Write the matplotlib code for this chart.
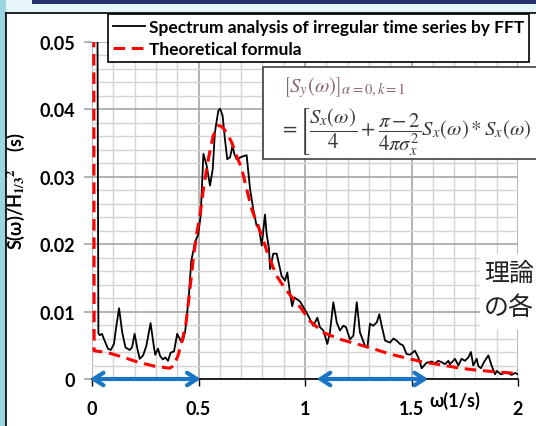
import numpy as np
import matplotlib
matplotlib.use('Agg')
import matplotlib.pyplot as plt
from matplotlib.patches import Rectangle
from matplotlib.lines import Line2D

# Data
omega_fft = [0.025, 0.030, 0.036, 0.047, 0.055, 0.075, 0.088, 0.103, 0.115, 0.127,
             0.142, 0.157, 0.177, 0.188, 0.200, 0.213, 0.224, 0.240, 0.255, 0.275,
             0.290, 0.297, 0.310, 0.320, 0.333, 0.344, 0.357, 0.369, 0.385, 0.400,
             0.416, 0.427, 0.437, 0.444, 0.455, 0.466, 0.484, 0.499, 0.510, 0.523,
             0.538, 0.554, 0.567, 0.577, 0.593, 0.601, 0.613, 0.624, 0.635, 0.648,
             0.660, 0.668, 0.679, 0.698, 0.714, 0.726, 0.742, 0.757, 0.773, 0.781,
             0.797, 0.812, 0.820, 0.831, 0.836, 0.851, 0.867, 0.890, 0.906, 0.917,
             0.930, 0.940, 0.950, 0.977, 1.008, 1.039, 1.058, 1.070, 1.086, 1.105,
             1.117, 1.133, 1.149, 1.164, 1.180, 1.192, 1.211, 1.227, 1.243, 1.258,
             1.282, 1.293, 1.305, 1.320, 1.337, 1.349, 1.360, 1.376, 1.399, 1.415,
             1.430, 1.446, 1.460, 1.477, 1.493, 1.516, 1.532, 1.548, 1.570, 1.595,
             1.610, 1.626, 1.641, 1.657, 1.673, 1.680, 1.696, 1.704, 1.720, 1.735,
             1.751, 1.767, 1.779, 1.790, 1.806, 1.814, 1.826, 1.840, 1.861, 1.876,
             1.892, 1.900, 1.920, 1.947, 1.970, 1.986, 2.000]
s_fft = [0.0600, 0.0068, 0.0065, 0.0067, 0.0060, 0.0045, 0.0043, 0.0052, 0.0080, 0.0105,
         0.0069, 0.0047, 0.0043, 0.0047, 0.0067, 0.0045, 0.0030, 0.0035, 0.0049, 0.0083,
         0.0049, 0.0036, 0.0045, 0.0034, 0.0029, 0.0032, 0.0027, 0.0039, 0.0041, 0.0067,
         0.0057, 0.0057, 0.0070, 0.0089, 0.0125, 0.0175, 0.0203, 0.0215, 0.0242, 0.0334,
         0.0317, 0.0287, 0.0312, 0.0366, 0.0398, 0.0401, 0.0391, 0.0356, 0.0326, 0.0329,
         0.0346, 0.0334, 0.0326, 0.0329, 0.0331, 0.0332, 0.0282, 0.0252, 0.0227, 0.0229,
         0.0198, 0.0244, 0.0215, 0.0193, 0.0163, 0.0186, 0.0186, 0.0153, 0.0146, 0.0158,
         0.0126, 0.0108, 0.0121, 0.0115, 0.0098, 0.0079, 0.0091, 0.0077, 0.0072, 0.0052,
         0.0069, 0.0114, 0.0084, 0.0072, 0.0079, 0.0077, 0.0059, 0.0064, 0.0114, 0.0069,
         0.0049, 0.0047, 0.0082, 0.0079, 0.0084, 0.0096, 0.0079, 0.0057, 0.0054, 0.0060,
         0.0057, 0.0052, 0.0050, 0.0037, 0.0036, 0.0042, 0.0032, 0.0016, 0.0024, 0.0026,
         0.0023, 0.0027, 0.0025, 0.0022, 0.0027, 0.0022, 0.0027, 0.0030, 0.0020, 0.0030,
         0.0027, 0.0032, 0.0040, 0.0020, 0.0030, 0.0019, 0.0016, 0.0025, 0.0035, 0.0020,
         0.0007, 0.0012, 0.0007, 0.0010, 0.0006, 0.0009, 0.0007]

omega_theory = [0.008, 0.010, 0.075, 0.150, 0.216, 0.294, 0.365, 0.385, 0.404, 0.423,
                0.440, 0.455, 0.476, 0.491, 0.507, 0.523, 0.546, 0.569, 0.593, 0.608,
                0.632, 0.656, 0.679, 0.703, 0.726, 0.750, 0.773, 0.797, 0.828, 0.867,
                0.906, 0.945, 0.984, 1.023, 1.086, 1.164, 1.243, 1.320, 1.399, 1.477,
                1.555, 1.640, 1.728, 1.810, 1.884, 2.000]
s_theory = [0.0600, 0.0042, 0.0039, 0.0032, 0.0025, 0.0019, 0.0016, 0.0020, 0.0035, 0.0057,
            0.0080, 0.0120, 0.0180, 0.0215, 0.0242, 0.0282, 0.0326, 0.0361, 0.0376, 0.0375,
            0.0366, 0.0351, 0.0331, 0.0312, 0.0282, 0.0252, 0.0232, 0.0213, 0.0183, 0.0153,
            0.0134, 0.0119, 0.0104, 0.0086, 0.0069, 0.0059, 0.0052, 0.0045, 0.0037, 0.0031,
            0.0025, 0.0021, 0.0016, 0.0013, 0.0011, 0.0008]

# blue range arrows along the omega axis
arrow_ranges = [(-0.01, 0.51), (1.055, 1.578)]

label_fft = 'Spectrum analysis of irregular time series by FFT'
label_theory = 'Theoretical formula'

plt.rcParams['font.family'] = ['Lato', 'Noto Sans CJK JP', 'DejaVu Sans']
plt.rcParams['mathtext.fontset'] = 'stix'

W, H = 536, 427
fig = plt.figure(figsize=(W / 100, H / 100), dpi=100)

def fx(p):
    return p / W

def fy(p):
    return 1 - p / H

# slide background bits
fig.patches.append(Rectangle((0, 0), 1, 1, transform=fig.transFigure,
                             facecolor='white', edgecolor='none', zorder=-10))
fig.patches.append(Rectangle((0, 0), fx(6), 1, transform=fig.transFigure,
                             facecolor='#9ad6e2', edgecolor='none', zorder=-9))
fig.patches.append(Rectangle((fx(6), fy(14)), 1, fy(0) - fy(14), transform=fig.transFigure,
                             facecolor='#e6f5f8', edgecolor='none', zorder=-9))
fig.patches.append(Rectangle((fx(32), fy(5)), 1, fy(0) - fy(5), transform=fig.transFigure,
                             facecolor='#26306e', edgecolor='none', zorder=-8))
fig.lines.append(Line2D([fx(6), fx(6)], [0, fy(14)], transform=fig.transFigure,
                        color='black', lw=1.2))
fig.lines.append(Line2D([fx(6), 1], [fy(14), fy(14)], transform=fig.transFigure,
                        color='black', lw=1.2))

ax = fig.add_axes([fx(92), 1 - 380 / H, 426 / W, 337 / H])
ax.set_facecolor('none')

ax.plot(omega_fft, s_fft, color='black', lw=1.3, label=label_fft, zorder=3)
ax.plot(omega_theory, s_theory, color='red', lw=2.2, ls=(0, (3.8, 2.2)),
        label=label_theory, zorder=4)

ax.set_xlim(0, 2)
ax.set_ylim(0, 0.05)
ax.set_xticks([0, 0.5, 1, 1.5, 2])
ax.set_xticks(np.arange(0, 2.01, 0.1), minor=True)
ax.set_yticks([0, 0.01, 0.02, 0.03, 0.04, 0.05])
ax.set_yticks(np.arange(0, 0.0501, 0.002), minor=True)
ax.set_xticklabels(['0', '0.5', '1', '1.5', '2'])
ax.set_yticklabels(['0', '0.01', '0.02', '0.03', '0.04', '0.05'])
ax.grid(which='minor', color='#d4d4d4', lw=1.0)
ax.grid(which='major', color='#a6a6a6', lw=1.2)
ax.set_axisbelow(True)
for side in ['top', 'right', 'left']:
    ax.spines[side].set_visible(False)
ax.spines['bottom'].set_color('black')
ax.spines['bottom'].set_linewidth(1.2)
ax.tick_params(axis='y', which='major', length=6, color='#a6a6a6', width=1.2,
               labelsize=13, pad=6)
ax.tick_params(axis='x', which='major', length=5, color='black', width=1,
               labelsize=13, pad=10)
ax.tick_params(which='minor', length=0)
for lab in ax.get_xticklabels() + ax.get_yticklabels():
    lab.set_fontweight('bold')

ax.set_ylabel(r'S(ω)/H$_{\mathbf{1/3}}$$^{\mathbf{2}}$    (s)', fontsize=13,
              fontweight='bold')
ax.yaxis.set_label_coords((fx(27) - fx(92)) / (426 / W), 0.56)

fig.text(fx(455), fy(401), 'ω(1/s)', fontsize=13, fontweight='bold',
         ha='center', va='center')

for a0, a1 in arrow_ranges:
    ax.annotate('', xy=(a1, 0), xytext=(a0, 0),
                arrowprops=dict(arrowstyle='<->,head_length=0.7,head_width=0.45',
                                color='#1a75c4', lw=3, shrinkA=0, shrinkB=0),
                annotation_clip=False, zorder=6)

leg = ax.legend(loc='upper left', bbox_to_anchor=(fx(108), fy(15)),
                bbox_transform=fig.transFigure, borderaxespad=0,
                prop={'weight': 'bold', 'size': 12.5}, handlelength=1.85,
                handletextpad=0.2, labelspacing=0.32, borderpad=0.3,
                fancybox=False, framealpha=1, edgecolor='black')
leg.get_frame().set_linewidth(1.2)

# formula box
fig.patches.append(Rectangle((fx(263), fy(160)), fx(300), fy(68) - fy(160),
                             transform=fig.transFigure, facecolor='white',
                             edgecolor='#404040', lw=1.2, zorder=10))
fig.text(fx(283), fy(88), r'$\left[S_y(\omega)\right]_{\alpha=0,k=1}$',
         fontsize=15, color='#8a6868', ha='left', va='center', zorder=11)
fig.text(fx(279), fy(132),
         r'$=\left[\dfrac{S_x(\omega)}{4}+\dfrac{\pi-2}{4\pi\sigma_x^2}S_x(\omega)*S_x(\omega)\right.$',
         fontsize=15, color='#3a3a3a', ha='left', va='center', zorder=11)

# Japanese slide text on the right
fig.patches.append(Rectangle((fx(480), fy(330)), fx(60), fy(255) - fy(330),
                             transform=fig.transFigure, facecolor='white',
                             edgecolor='none', zorder=10))
fig.text(fx(484), fy(275), '理論', fontsize=18, color='#222222',
         family=['Noto Sans CJK JP'], ha='left', va='center', zorder=11)
fig.text(fx(484), fy(308), 'の各', fontsize=18, color='#222222',
         family=['Noto Sans CJK JP'], ha='left', va='center', zorder=11)

fig.savefig('out.png', dpi=100)
